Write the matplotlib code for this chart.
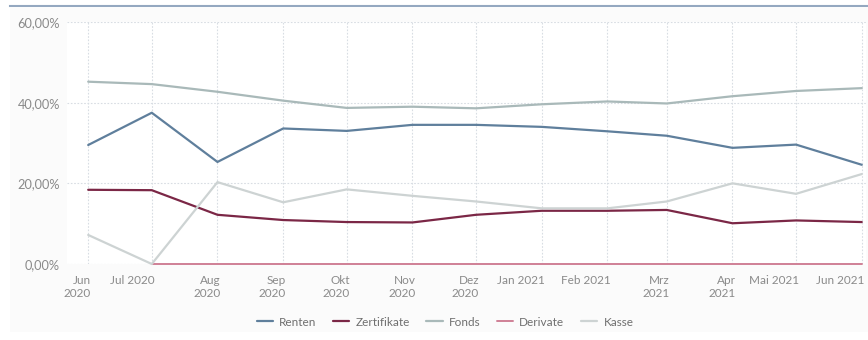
import matplotlib
matplotlib.use("Agg")
import matplotlib.pyplot as plt
import numpy as np
import pandas as pd
from matplotlib.patches import Rectangle
from matplotlib.lines import Line2D
import matplotlib.transforms as mtransforms

plt.rcParams['font.family'] = ['Lato', 'DejaVu Sans']

months = pd.date_range("2020-06-01", "2021-06-01", freq="MS")
tick_labels = ["Jun\n2020", "Jul 2020", "Aug\n2020", "Sep\n2020", "Okt\n2020", "Nov\n2020",
               "Dez\n2020", "Jan 2021", "Feb 2021", "Mrz\n2021", "Apr\n2021", "Mai 2021", "Jun 2021"]

renten      = [29.5, 37.5, 25.3, 33.6, 33.0, 34.5, 34.5, 34.0, 32.9, 31.8, 28.8, 29.6, 24.6]
zertifikate = [18.4, 18.3, 12.2, 10.9, 10.4, 10.3, 12.2, 13.2, 13.2, 13.4, 10.1, 10.8, 10.4]
fonds       = [45.2, 44.6, 42.7, 40.5, 38.7, 39.0, 38.6, 39.6, 40.3, 39.8, 41.6, 42.9, 43.6]
derivate    = [np.nan, 0, 0, 0, 0, 0, 0, 0, 0, 0, 0, 0, 0]
kasse       = [7.2, 0.0, 20.3, 15.3, 18.5, 16.9, 15.5, 13.8, 13.8, 15.5, 20.0, 17.4, 22.3]

series = [
    ("Renten", renten, "#5f7f9c", 1.6),
    ("Zertifikate", zertifikate, "#7b2746", 1.6),
    ("Fonds", fonds, "#a9b9b9", 1.6),
    ("Derivate", derivate, "#cf8096", 1.4),
    ("Kasse", kasse, "#cdd3d3", 1.6),
]

W, H = 868, 340
fig = plt.figure(figsize=(W / 100, H / 100), dpi=100)
fig.patch.set_facecolor("white")

fig.add_artist(Rectangle((10 / W, 8 / H), 858 / W, (332 - 8) / H, transform=fig.transFigure,
                         facecolor="#fbfbfb", edgecolor="none", zorder=0))
fig.add_artist(Line2D([10 / W, 1.0], [1 - 6 / H, 1 - 6 / H], transform=fig.transFigure,
                      color="#94a8c0", lw=1.5))

left, right, top, bottom = 67, 866, 22, 264
ax = fig.add_axes([left / W, 1 - bottom / H, (right - left) / W, (bottom - top) / H])
ax.set_facecolor("white")

for name, vals, col, lw in series:
    ax.plot(months, vals, color=col, lw=lw, label=name, solid_capstyle="round", zorder=3, clip_on=False)

x0 = months[0] - pd.Timedelta(days=10)
x1 = months[-1] + pd.Timedelta(days=2)
ax.set_xlim(x0, x1)
ax.set_ylim(0, 60)

ax.set_yticks([0, 20, 40, 60])
ax.set_yticklabels(["0,00%", "20,00%", "40,00%", "60,00%"])
ax.set_xticks(months)
ax.set_xticklabels(tick_labels, ha="right", va="top", linespacing=1.25)

ax.tick_params(axis="both", length=0, labelsize=8.5, colors="#8a8a8a")
ax.tick_params(axis="y", pad=5, labelsize=9.2)
ax.tick_params(axis="x", pad=8)
for lab in ax.get_xticklabels():
    lab.set_transform(lab.get_transform() + mtransforms.ScaledTranslation(3 / 100, 0, fig.dpi_scale_trans))

ax.grid(True, which="major", axis="both", color="#d8dde3", lw=0.8, linestyle=(0, (1.5, 1.5)), zorder=1)
for s in ax.spines.values():
    s.set_visible(False)

leg = fig.legend(*ax.get_legend_handles_labels(), loc="center", bbox_to_anchor=(445 / W, 1 - 322 / H),
                 ncol=5, frameon=False, fontsize=8.5, handlelength=1.4, handletextpad=0.5,
                 columnspacing=1.4)
for t in leg.get_texts():
    t.set_color("#6f6f6f")

fig.savefig("out.png", dpi=100, facecolor="white")
